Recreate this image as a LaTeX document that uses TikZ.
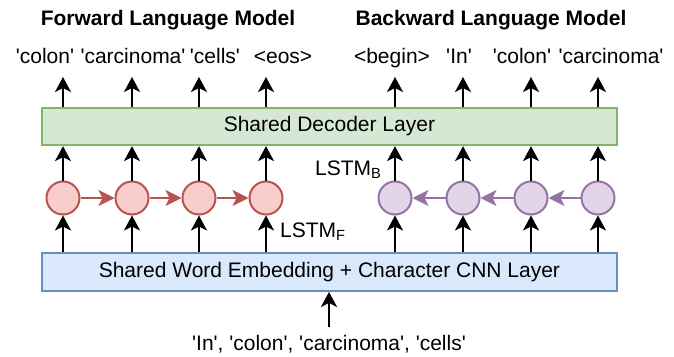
\documentclass[tikz,border=0pt]{standalone}
\usepackage{fontspec}
\setmainfont{Liberation Sans}
\usetikzlibrary{arrows.meta}
\newcommand\sq{\textquotesingle}
\definecolor{fred}{HTML}{F8CECC}
\definecolor{dred}{HTML}{B85450}
\definecolor{fpur}{HTML}{E1D5E7}
\definecolor{dpur}{HTML}{9673A6}
\definecolor{fgrn}{HTML}{D5E8D4}
\definecolor{dgrn}{HTML}{82B366}
\definecolor{fblu}{HTML}{DAE8FC}
\definecolor{dblu}{HTML}{6C8EBF}
\begin{document}
\begin{tikzpicture}[x=1pt,y=-1pt,
  txt/.style={font=\fontsize{21}{25}\selectfont, inner sep=0pt},
  ttl/.style={font=\fontsize{21}{25}\selectfont\bfseries, inner sep=0pt, anchor=base},
  lbl/.style={txt, anchor=base},
  layer/.style={draw, line width=2pt, minimum width=575pt, minimum height=37.5pt, txt},
  fcell/.style={circle, draw=dred, fill=fred, line width=2pt, minimum size=33pt, inner sep=0pt},
  bcell/.style={circle, draw=dpur, fill=fpur, line width=2pt, minimum size=33pt, inner sep=0pt},
  arr/.style={line width=2pt, -{Stealth[length=15pt,width=16pt,inset=4pt]}},
  farr/.style={arr, draw=dred, -{Stealth[length=16pt,width=16pt,inset=4pt,fill=dred]}},
  barr/.style={arr, draw=dpur, -{Stealth[length=16pt,width=16pt,inset=4pt,fill=dpur]}}]
\useasboundingbox (0,0) rectangle (674,356);

\node[ttl] (tf) at (168,25) {Forward Language Model};
\node[ttl] (tb) at (491,25) {Backward Language Model};

\node[layer, draw=dgrn, fill=fgrn] (dec) at (329.4,126.4) {Shared Decoder Layer};
\node[layer, draw=dblu, fill=fblu] (emb) at (329.4,272.2) {Shared Word Embedding + Character CNN Layer};

\foreach \i/\x in {1/63,2/132,3/199,4/266}
  \node[fcell] (f\i) at (\x,198) {};
\foreach \i/\x in {1/395,2/463,3/531,4/598}
  \node[bcell] (b\i) at (\x,198) {};

\node[lbl] (o1) at (45,63) {\sq colon\sq};
\node[lbl] (o2) at (133,63) {\sq carcinoma\sq};
\node[lbl] (o3) at (215,63) {\sq cells\sq};
\node[lbl] (o4) at (283,63) {<eos>};
\node[lbl] (o5) at (392,63) {<begin>};
\node[lbl] (o6) at (459,63) {\sq In\sq};
\node[lbl] (o7) at (522,63) {\sq colon\sq};
\node[lbl] (o8) at (611,63) {\sq carcinoma\sq};

\coordinate (t1) at (63,77);
\coordinate (t2) at (132,77);
\coordinate (t3) at (199,77);
\coordinate (t4) at (266,77);
\coordinate (t5) at (395,77);
\coordinate (t6) at (463,77);
\coordinate (t7) at (531,77);
\coordinate (t8) at (598,77);

\foreach \i in {1,2,3,4} {
  \draw[arr] (dec.north -| f\i) -- (t\i);
  \draw[arr] (f\i) -- (dec.south -| f\i);
  \draw[arr] (emb.north -| f\i) -- (f\i);
}
\foreach \i/\j in {1/5,2/6,3/7,4/8} {
  \draw[arr] (dec.north -| b\i) -- (t\j);
  \draw[arr] (b\i) -- (dec.south -| b\i);
  \draw[arr] (emb.north -| b\i) -- (b\i);
}
\draw[farr] (f1) -- (f2);
\draw[farr] (f2) -- (f3);
\draw[farr] (f3) -- (f4);
\draw[barr] (b4) -- (b3);
\draw[barr] (b3) -- (b2);
\draw[barr] (b2) -- (b1);

\node[txt, anchor=base west] (lb) at (315,175) {LSTM\textsubscript{B}};
\node[txt, anchor=base west] (lf) at (280,237) {LSTM\textsubscript{F}};

\node[lbl] (in) at (329,350) {\sq In\sq, \sq colon\sq, \sq carcinoma\sq, \sq cells\sq};
\coordinate (inb) at (329,327);
\draw[arr] (inb) -- (emb.south -| inb);
\end{tikzpicture}
\end{document}
